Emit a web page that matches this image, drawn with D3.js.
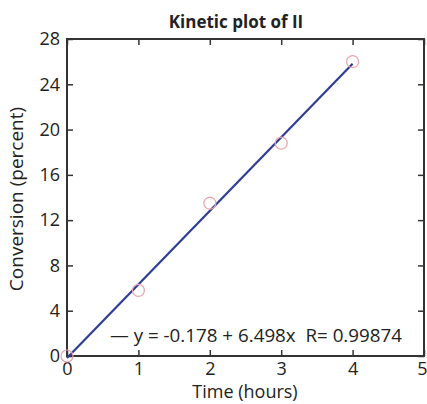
<!DOCTYPE html>
<html><head><meta charset="utf-8">
<script src="https://cdn.jsdelivr.net/npm/d3@7"></script>
<style>body{margin:0;background:#fff;} text{font-family:"Open Sans","Noto Sans",sans-serif;}</style>
</head><body>
<svg id="c" width="427" height="404"></svg>
<script>
const timeHours = [0, 1, 2, 3, 4];
const conversion = [0, 5.8, 13.5, 18.8, 26.0];
const fitIntercept = -0.178;
const fitSlope = 6.498;
const fitR = 0.99874;
const xTicks = [0, 1, 2, 3, 4, 5];
const yTicks = [0, 4, 8, 12, 16, 20, 24, 28];

const svg = d3.select("#c");
const L = 67, R = 424, T = 39, B = 356;
const x = d3.scaleLinear().domain([0, 5]).range([L, R]);
const y = d3.scaleLinear().domain([0, 28]).range([B, T]);
const axCol = "#333";
const fs = 18;

const tl = 6;
const ax = [
  [d3.axisBottom(x).tickValues(xTicks).tickSize(tl).tickFormat(d3.format("d")), `translate(0,${B})`],
  [d3.axisTop(x).tickValues(xTicks).tickSize(tl).tickFormat(""), `translate(0,${T})`],
  [d3.axisLeft(y).tickValues(yTicks).tickSize(tl).tickFormat(d3.format("d")), `translate(${L},0)`],
  [d3.axisRight(y).tickValues(yTicks).tickSize(tl).tickFormat(""), `translate(${R},0)`]
];
ax.forEach(([a, tr], i) => {
  const g = svg.append("g").attr("transform", tr).call(a);
  g.select(".domain").remove();
  g.selectAll(".tick line").attr("stroke", axCol).attr("stroke-width", 1.5);
  if (i === 0) g.selectAll(".tick line").attr("y2", -tl);
  if (i === 1) g.selectAll(".tick line").attr("y2", tl);
  if (i === 2) g.selectAll(".tick line").attr("x2", tl);
  if (i === 3) g.selectAll(".tick line").attr("x2", -tl);
  g.selectAll(".tick text").attr("font-size", fs).attr("fill", "#222")
   .style("font-family", '"Open Sans","Noto Sans",sans-serif');
  if (i === 0) {
    g.selectAll(".tick text").attr("y", 4).attr("dy", "0.85em");
    g.selectAll(".tick text").filter((d) => d === 5).attr("x", -2);
  }
  if (i === 2) g.selectAll(".tick text").attr("x", -7).attr("dy", "0.32em");
});
svg.append("rect").attr("x", L).attr("y", T).attr("width", R - L).attr("height", B - T)
  .attr("fill", "none").attr("stroke", axCol).attr("stroke-width", 2);

const xs = [timeHours[0], timeHours[timeHours.length - 1]];
svg.append("line")
  .attr("x1", x(xs[0])).attr("y1", y(fitIntercept + fitSlope * xs[0]))
  .attr("x2", x(xs[1])).attr("y2", y(fitIntercept + fitSlope * xs[1]))
  .attr("stroke", "#2e3d96").attr("stroke-width", 2.2);

svg.selectAll("circle.pt").data(timeHours).join("circle").attr("class", "pt")
  .attr("cx", (d) => x(d)).attr("cy", (d, i) => y(conversion[i])).attr("r", 6)
  .attr("fill", "none").attr("stroke", "#eba3ad").attr("stroke-width", 1.2);

svg.append("text").attr("x", 110).attr("y", 342).attr("font-size", 18).attr("fill", "#222")
  .attr("textLength", 292).attr("lengthAdjust", "spacingAndGlyphs")
  .style("white-space", "pre")
  .text(`— y = ${fitIntercept} + ${fitSlope}x  R= ${fitR}`);

svg.append("text").attr("x", 236).attr("y", 28).attr("text-anchor", "middle")
  .attr("font-size", 17).attr("font-weight", "bold").attr("fill", "#222").text("Kinetic plot of II");
svg.append("text").attr("x", 245).attr("y", 398).attr("text-anchor", "middle")
  .attr("font-size", 18).attr("fill", "#222").text("Time (hours)");
svg.append("text").attr("transform", "translate(23,199) rotate(-90)").attr("text-anchor", "middle")
  .attr("font-size", 19).attr("fill", "#222").text("Conversion (percent)");
</script>
</body></html>
